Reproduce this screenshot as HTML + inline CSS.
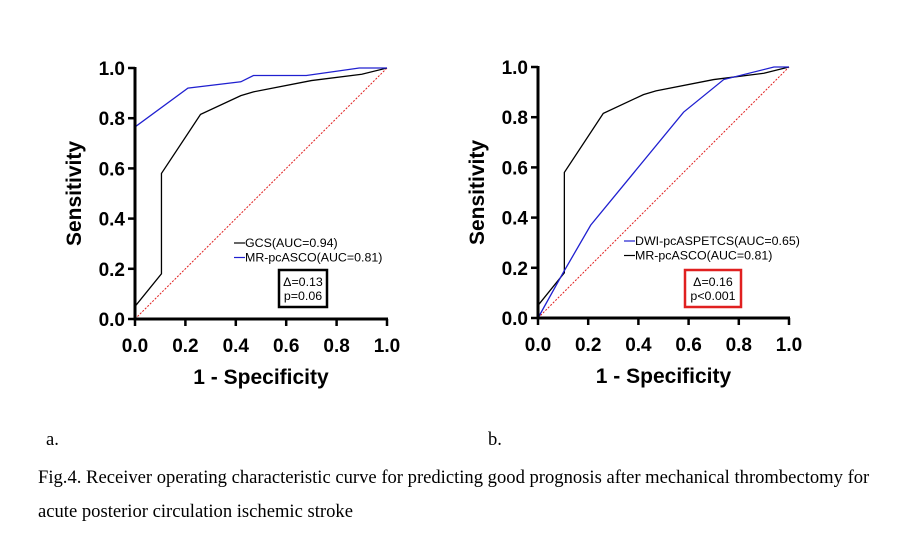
<!DOCTYPE html>
<html><head><meta charset="utf-8"><style>
body{margin:0;background:#fff;width:908px;height:539px;overflow:hidden}
svg{position:absolute;left:0;top:0}
.cap{position:absolute;font-family:"Liberation Serif",serif;font-size:18.6px;color:#000;white-space:nowrap}
</style></head><body>
<svg id="chart" width="908" height="539"></svg>
<div class="cap" style="left:46px;top:429px">a.</div>
<div class="cap" style="left:488px;top:429px">b.</div>
<div class="cap" style="left:38px;top:467px">Fig.4. Receiver operating characteristic curve for predicting good prognosis after mechanical thrombectomy for</div>
<div class="cap" style="left:38px;top:501px">acute posterior circulation ischemic stroke</div>
<script>
const ticks=[0,0.2,0.4,0.6,0.8,1.0];
const tickLabels=["0.0","0.2","0.4","0.6","0.8","1.0"];
const gcsX=[0,0.105,0.105,0.26,0.42,0.47,0.7,0.9,1];
const gcsY=[0.05,0.18,0.58,0.815,0.89,0.905,0.95,0.975,1];
const mrLeftX=[0,0,0.21,0.42,0.47,0.68,0.89,1];
const mrLeftY=[0,0.765,0.92,0.945,0.97,0.97,1,1];
const dwiX=[0,0.1,0.21,0.58,0.74,0.94,1];
const dwiY=[0,0.18,0.37,0.82,0.95,1,1];
const NS="http://www.w3.org/2000/svg";
const svg=document.getElementById('chart');
function mk(t,a,p){const e=document.createElementNS(NS,t);for(const k in a)e.setAttribute(k,a[k]);(p||svg).appendChild(e);return e;}
function panel(x0,x1,y0,y1,series,legend,box,name){
 const g=mk('g',{});
 
 
 const sx=v=>x0+v*(x1-x0), sy=v=>y0-v*(y0-y1);
 const diag=mk('line',{x1:sx(0),y1:sy(0),x2:sx(1),y2:sy(1),stroke:'#e02020','stroke-width':1,'stroke-dasharray':'2,1.5'},g);
 
 
 series.forEach(s=>{
  const p=mk('polyline',{points:s.x.map((v,i)=>sx(v)+','+sy(s.y[i])).join(' '),fill:'none',stroke:s.c,'stroke-width':1.3},g);
  
  
 });
 const ax=mk('path',{d:`M${x0} ${y1-1}V${y0}H${x1+1}`,fill:'none',stroke:'#000','stroke-width':3},g);
 
 
 ticks.forEach((t,i)=>{
  mk('line',{x1:sx(t),y1:y0,x2:sx(t),y2:y0+7,stroke:'#000','stroke-width':2.5},g);
  mk('line',{x1:x0-7,y1:sy(t),x2:x0,y2:sy(t),stroke:'#000','stroke-width':2.5},g);
  const tx=mk('text',{x:sx(t),y:y0+33,'text-anchor':'middle','font-family':'Liberation Sans','font-weight':'bold','font-size':19},g);
  tx.textContent=tickLabels[i];
  
  
  const ty=mk('text',{x:x0-10,y:sy(t)+7,'text-anchor':'end','font-family':'Liberation Sans','font-weight':'bold','font-size':19},g);
  ty.textContent=tickLabels[i];
  
  
 });
 const xt=mk('text',{x:(x0+x1)/2,y:y0+65,'text-anchor':'middle','font-family':'Liberation Sans','font-weight':'bold','font-size':21},g);
 xt.textContent='1 - Specificity';
 
 
 const yt=mk('text',{x:0,y:0,transform:`translate(${x0-54},${(y0+y1)/2}) rotate(-90)`,'text-anchor':'middle','font-family':'Liberation Sans','font-weight':'bold','font-size':21},g);
 yt.textContent='Sensitivity';
 
 
 legend.items.forEach((it,i)=>{
  const y=legend.y+i*14.5;
  mk('line',{x1:legend.x,y1:y,x2:legend.x+11,y2:y,stroke:it.c,'stroke-width':1.2},g);
  const t=mk('text',{x:legend.x+11,y:y+4,'font-family':'Liberation Sans','font-size':12.4},g);
  t.textContent=it.t;
  
  
 });
 const r=mk('rect',{x:box.x,y:box.y,width:box.w,height:box.h,fill:'#fff',stroke:box.c,'stroke-width':2.5},g);
 
 
 box.lines.forEach((l,i)=>{const t=mk('text',{x:box.x+box.w/2,y:box.y+16+i*14,'text-anchor':'middle','font-family':'Liberation Sans','font-size':12.4},g);t.textContent=l;
  
  });
}
panel(135,387,319,68,
 [{x:gcsX,y:gcsY,c:'#000',n:'gcs-curve'},{x:mrLeftX,y:mrLeftY,c:'#2020d0',n:'mr-pcasco-curve'}],
 {x:234,y:243,items:[{c:'#000',t:'GCS(AUC=0.94)'},{c:'#2020d0',t:'MR-pcASCO(AUC=0.81)'}]},
 {x:279,y:270,w:48,h:37,c:'#000',lines:['Δ=0.13','p=0.06']},'panel-a');
panel(538,789,318,67,
 [{x:gcsX,y:gcsY,c:'#000',n:'mr-pcasco-curve'},{x:dwiX,y:dwiY,c:'#2020d0',n:'dwi-pcaspetcs-curve'}],
 {x:624,y:241,items:[{c:'#2020d0',t:'DWI-pcASPETCS(AUC=0.65)'},{c:'#000',t:'MR-pcASCO(AUC=0.81)'}]},
 {x:685,y:270,w:56,h:37,c:'#e02020',lines:['Δ=0.16','p<0.001']},'panel-b');
</script>
</body></html>
